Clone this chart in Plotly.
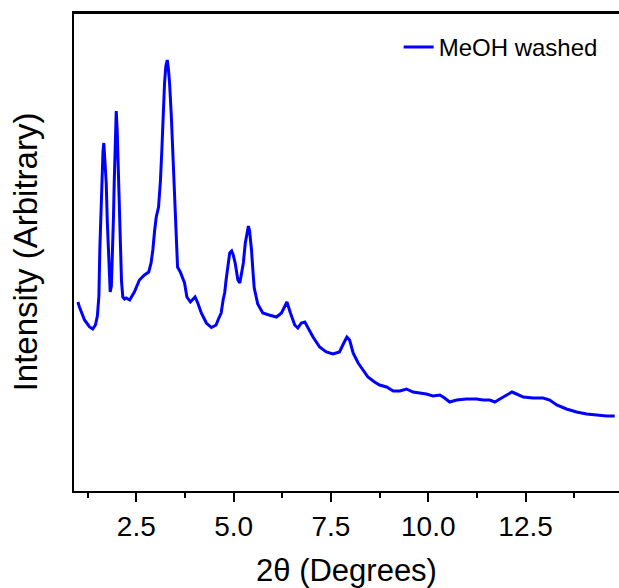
import plotly.graph_objects as go

# 2-theta positions (degrees)
two_theta = [1.00, 1.04, 1.17, 1.30, 1.38, 1.45, 1.50, 1.54, 1.563, 1.59,
             1.614, 1.645, 1.666, 1.69, 1.728, 1.755, 1.779, 1.80, 1.83, 1.86,
             1.897, 1.915, 1.933, 1.96, 1.985, 2.01, 2.051, 2.075, 2.095, 2.12,
             2.154, 2.20, 2.24, 2.33, 2.45, 2.58, 2.71, 2.82, 2.88, 2.925,
             2.97, 3.013, 3.072, 3.12, 3.157, 3.19, 3.226, 3.26, 3.296, 3.325,
             3.355, 3.40, 3.44, 3.483, 3.501, 3.542, 3.56, 3.63, 3.74, 3.80,
             3.89, 4.01, 4.08, 4.17, 4.30, 4.43, 4.55, 4.60, 4.68, 4.73,
             4.77, 4.81, 4.90, 4.95, 4.99, 5.04, 5.11, 5.16, 5.25, 5.30,
             5.35, 5.38, 5.41, 5.46, 5.50, 5.53, 5.62, 5.75, 5.91, 6.10,
             6.23, 6.34, 6.37, 6.46, 6.57, 6.65, 6.74, 6.83, 6.91, 7.04,
             7.21, 7.38, 7.55, 7.72, 7.83, 7.91, 7.98, 8.07, 8.20, 8.32,
             8.45, 8.62, 8.75, 8.93, 9.10, 9.27, 9.44, 9.61, 9.78, 9.95,
             10.12, 10.30, 10.42, 10.55, 10.73, 10.98, 11.24, 11.41, 11.58, 11.71,
             11.84, 12.01, 12.15, 12.27, 12.44, 12.69, 12.95, 13.12, 13.30, 13.55,
             13.81, 14.07, 14.32, 14.58, 14.79]

# intensity, arbitrary units
intensity = [189, 184, 171, 164, 162, 166, 175, 195, 241, 280,
             308, 340, 348, 335, 308, 270, 241, 215, 199, 205,
             241, 275, 308, 355, 380, 360, 308, 270, 241, 210,
             194, 192, 193, 191, 199, 211, 216, 219, 228, 241,
             260, 274, 284, 310, 341, 375, 408, 425, 431, 422,
             408, 375, 341, 291, 274, 241, 224, 219, 208, 194,
             189, 194, 188, 178, 168, 163.5, 166, 171, 178, 191,
             198, 212, 238, 240, 236, 228, 211, 208, 228, 248,
             262, 265, 260, 241, 218, 203, 187, 178, 176, 174,
             178, 188, 189, 178, 166, 163, 168, 169, 163, 154,
             144, 139, 137, 139, 148, 154, 151, 138, 128, 121,
             114, 109, 106, 104, 100, 100, 102, 99, 98, 97,
             95, 96, 93, 89, 91, 92, 92, 91, 91, 89,
             92, 96, 99, 97, 94, 93, 93, 91, 86, 82,
             79, 77, 76, 75, 75]

x_ticks = [2.5, 5.0, 7.5, 10.0, 12.5]
x_tick_text = ['2.5', '5.0', '7.5', '10.0', '12.5']

font_family = 'Arial, Liberation Sans, sans-serif'

fig = go.Figure()
fig.add_trace(go.Scatter(
    x=two_theta,
    y=intensity,
    mode='lines',
    line=dict(color='#0000FF', width=3),
    name='MeOH washed'
))

fig.update_layout(width=619, height=588,
                  margin=dict(l=74, r=0, t=13, b=97),
                  plot_bgcolor='white', paper_bgcolor='white',
                  font=dict(family=font_family, size=24, color='black'),
                  showlegend=True)
fig.update_layout(legend=dict(x=0.97, y=0.975, xanchor='right', yanchor='top',
                              bgcolor='rgba(0,0,0,0)', font=dict(size=24)))

fig.update_xaxes(range=[0.9, 14.9], showgrid=False, zeroline=False, automargin=False,
                 showline=True, linecolor='black', linewidth=2, mirror=True,
                 tickmode='array', tickvals=x_ticks, ticktext=x_tick_text,
                 ticks='outside', ticklen=9, tickwidth=2, tickcolor='black',
                 tickfont=dict(size=28),
                 minor=dict(dtick=1.25, tick0=0, ticks='outside', ticklen=5,
                            tickwidth=2, tickcolor='black', showgrid=False),
                 title=dict(text='2θ (Degrees)', font=dict(size=31), standoff=20))

fig.update_yaxes(range=[0, 478], showgrid=False, zeroline=False, automargin=False,
                 showline=True, linecolor='black', linewidth=2, mirror=False,
                 showticklabels=False, ticks='',
                 title=dict(text='Intensity (Arbitrary)', font=dict(size=33), standoff=24))

# top frame line of the box (right side is cut off in the original)
fig.add_shape(type='line', xref='paper', yref='paper', x0=0, x1=1, y0=1, y1=1,
              line=dict(color='black', width=2))

# page body has a default 8px margin; drop it so the figure sits at the corner
fig.write_html("out.html", config={'displayModeBar': False},
               post_script="document.body.style.margin='0';")
